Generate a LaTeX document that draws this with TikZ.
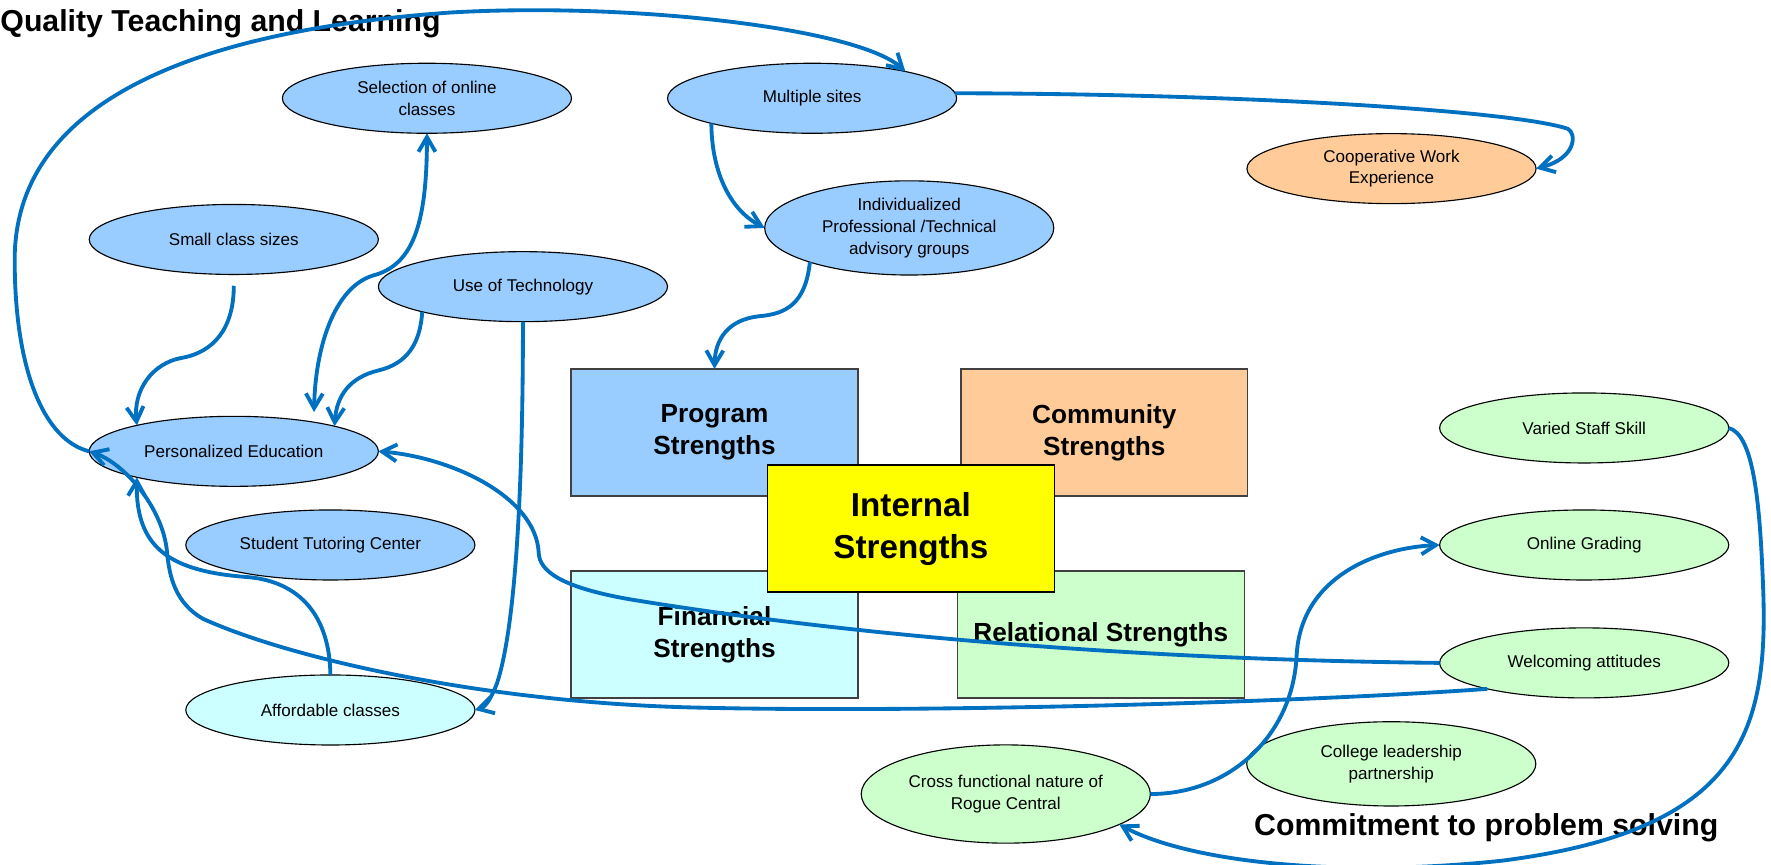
\documentclass[tikz,border=0pt]{standalone}
\usepackage{fontspec}
\setmainfont{Liberation Sans}
\usetikzlibrary{shapes.geometric,arrows.meta,calc}
\definecolor{lnblue}{HTML}{0070C0}
\definecolor{fblue}{HTML}{99CCFF}
\definecolor{forange}{HTML}{FFCC99}
\definecolor{fcyan}{HTML}{CCFFFF}
\definecolor{fgreen}{HTML}{CCFFCC}
\definecolor{fyellow}{HTML}{FFFF00}
\begin{document}
\begin{tikzpicture}[x=0.5pt,y=-0.5pt,
 oval/.style={ellipse,draw=black,line width=0.5pt,minimum width=128pt,minimum height=31pt,inner sep=0pt,outer sep=0pt,align=center,font=\fontsize{7.55}{9.7}\selectfont},
 tall/.style={minimum height=41.7pt},
 sbox/.style={rectangle,draw=black!75,line width=0.6pt,minimum width=127pt,minimum height=56.2pt,inner sep=0pt,outer sep=0pt,align=center,font=\fontsize{11.6}{14}\selectfont\bfseries},
 link/.style={draw=lnblue,line width=1.7pt,-{Straight Barb[length=6.5pt,width=7.5pt]}},
 heading/.style={inner sep=0pt,anchor=base west,font=\fontsize{13.4}{16}\selectfont\bfseries}
]
\fill[white] (0,0) rectangle (1568,765);
\useasboundingbox (0,0) rectangle (1568,765);

\node[heading] (qtl) at (0,28) {Quality Teaching and Learning};
\node[heading] (cps) at (1110,739.3) {Commitment to problem solving};

\node[sbox,fill=fblue] (PS) at (632.6,382.9) {Program\\Strengths};
\node[sbox,fill=forange] (CS) at (977.7,382.9) {Community\\Strengths};
\node[sbox,fill=fcyan] (FS) at (632.6,561.8) {Financial\\Strengths};
\node[sbox,fill=fgreen] (RS) at (974.6,561.8) {Relational Strengths};
\node[sbox,fill=fyellow,draw=black,font=\fontsize{14.7}{18.5}\selectfont\bfseries] (IS) at (806.5,468) {Internal\\Strengths};

\node[oval,fill=fblue] (SEL) at (378,87) {Selection of online\\classes};
\node[oval,fill=fblue] (MS) at (719,87) {Multiple sites};
\node[oval,fill=forange] (CWE) at (1232,149.3) {Cooperative Work\\Experience};
\node[oval,fill=fblue] (SCS) at (207,212) {Small class sizes};
\node[oval,tall,fill=fblue] (IND) at (805,201.8) {Individualized\\Professional /Technical\\advisory groups};
\node[oval,fill=fblue] (UT) at (463,253.8) {Use of Technology};
\node[oval,fill=fblue] (PE) at (207,399.6) {Personalized Education};
\node[oval,fill=fblue] (STC) at (292.5,482.5) {Student Tutoring Center};
\node[oval,fill=fcyan] (AC) at (292.5,628.6) {Affordable classes};
\node[oval,fill=fgreen] (VSS) at (1402.6,378.9) {Varied Staff Skill};
\node[oval,fill=fgreen] (OG) at (1402.6,482.5) {Online Grading};
\node[oval,fill=fgreen] (WA) at (1402.6,586.9) {Welcoming attitudes};
\node[oval,fill=fgreen,minimum height=37.3pt] (CLP) at (1231.8,676.3) {College leadership\\partnership};
\node[oval,fill=fgreen,minimum height=43.5pt] (CF) at (890.5,703) {Cross functional nature of\\Rogue Central};

\draw[link] (PE.west) .. controls (40,390) and (13,330) .. (13,230) .. controls (13,110) and (130,30) .. (400,11) .. controls (560,2) and (760,25) .. (MS.16);
\draw[link] (MS.2) .. controls (1100,83) and (1340,98) .. (1388,114) .. controls (1396,118) and (1396,140) .. (CWE.east);
\draw[link] (MS.194) .. controls (630,150) and (645,185) .. (IND.west);
\draw[link] (IND.199) .. controls (713,270) and (695,278) .. (672,280) .. controls (645,283) and (633,300) .. (PS.north);
\draw[link] ($(SCS.south)+(0,10)$) .. controls (207,290) and (190,312) .. (160,317) .. controls (135,322) and (118,345) .. (PE.165);
\draw[link,{Straight Barb[length=6.5pt,width=7.5pt]}-{Straight Barb[length=6.5pt,width=7.5pt]},shorten >=4.5pt] (SEL.south) .. controls (378,200) and (365,235) .. (330,244) .. controls (295,255) and (279,310) .. (PE.20);
\draw[link] (UT.194) .. controls (372,305) and (360,322) .. (335,328) .. controls (310,334) and (298,350) .. (PE.14);
\draw[link] (UT.south) .. controls (463,450) and (455,560) .. (440,605) .. controls (435,618) and (430,626) .. (AC.east);
\draw[link] (AC.north) .. controls (292,545) and (265,515) .. (220,511) .. controls (150,506) and (120,485) .. (PE.195);
\draw[link] (WA.west) .. controls (1000,584) and (750,562) .. (560,531) .. controls (495,520) and (478,505) .. (477,490) .. controls (475,440) and (400,405) .. (PE.east);
\draw[link] (WA.195) .. controls (1150,622) and (800,632) .. (600,626) .. controls (420,620) and (255,582) .. (180,548) .. controls (155,534) and (150,510) .. (148,490) .. controls (145,450) and (110,410) .. (PE.west);
\draw[link] (VSS.east) .. controls (1552,385) and (1558,440) .. (1561,520) .. controls (1566,650) and (1540,735) .. (1330,762) .. controls (1180,778) and (1050,762) .. (CF.-15);
\draw[link] (CF.east) .. controls (1090,703) and (1145,650) .. (1148,580) .. controls (1152,510) and (1220,485) .. (OG.west);
\end{tikzpicture}
\end{document}
